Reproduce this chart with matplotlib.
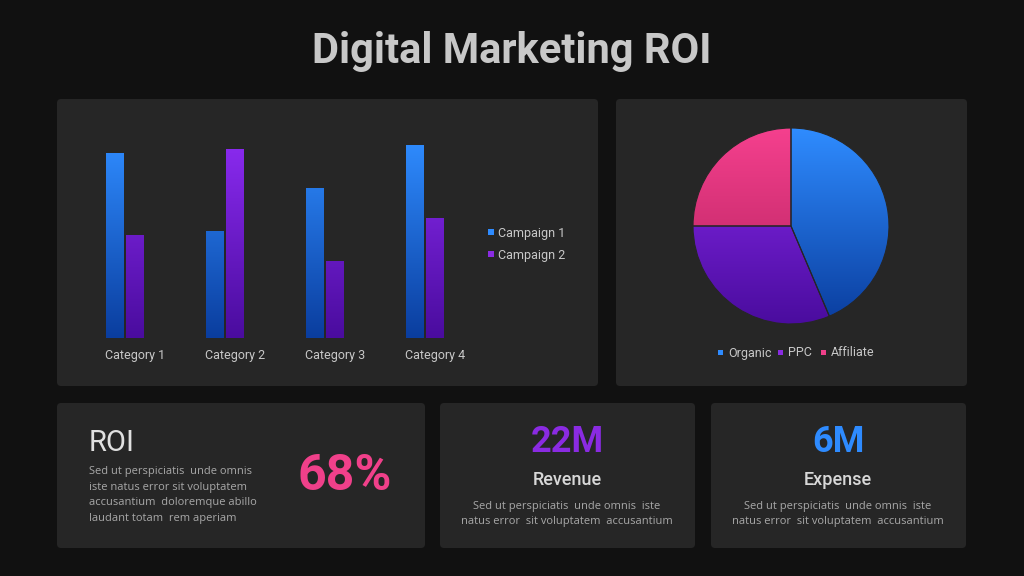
import numpy as np
import matplotlib
matplotlib.use("Agg")
import matplotlib.pyplot as plt
from matplotlib.patches import FancyBboxPatch, Rectangle, Wedge
from matplotlib.colors import LinearSegmentedColormap

categories = ["Category 1", "Category 2", "Category 3", "Category 4"]
campaign1 = [4.3, 2.5, 3.5, 4.5]
campaign2 = [2.4, 4.4, 1.8, 2.8]
series_names = ["Campaign 1", "Campaign 2"]
pie_labels = ["Organic", "PPC", "Affiliate"]
pie_values = [43.6, 31.4, 25.0]

plt.rcParams['font.family'] = ['Roboto', 'DejaVu Sans']
W, H = 1024, 576
fig = plt.figure(figsize=(W/100, H/100), dpi=100)
fig.patch.set_facecolor("#111111")
bg = fig.add_axes([0, 0, 1, 1])
bg.set_xlim(0, W); bg.set_ylim(H, 0); bg.axis("off")

def panel(x0, y0, x1, y1):
    bg.add_patch(FancyBboxPatch((x0, y0), x1-x0, y1-y0, boxstyle="round,pad=0,rounding_size=4",
                                fc="#262626", ec="none", zorder=1))
panel(57, 99, 598, 386)
panel(616, 99, 967, 386)
panel(57, 403, 425, 548)
panel(440, 403, 695, 548)
panel(711, 403, 966, 548)

bg.text(512, 52, "Digital Marketing ROI", ha="center", va="center", fontsize=30,
        fontweight="bold", color="#C8C8C8")

lorem_c = "#A8A8A8"
bg.text(89, 443, "ROI", fontsize=21, color="#E0E0E0", va="center", ha="left")
bg.text(89, 495, "Sed ut perspiciatis  unde omnis\niste natus error sit voluptatem\naccusantium  doloremque abillo\nlaudant totam  rem aperiam",
        fontsize=8, color=lorem_c, va="center", ha="left", linespacing=1.6, family=["Open Sans", "DejaVu Sans"])
bg.text(345, 476, "68%", fontsize=36, fontweight="bold", color="#F0408A", ha="center", va="center")
for cx, big, col, lab in [(567, "22M", "#8A2BE2", "Revenue"), (838, "6M", "#2E8BFF", "Expense")]:
    bg.text(cx, 442, big, fontsize=26, fontweight="bold", color=col, ha="center", va="center")
    bg.text(cx, 480, lab, fontsize=13, fontweight="medium", color="#D8D8D8", ha="center", va="center")
    bg.text(cx, 514, "Sed ut perspiciatis  unde omnis  iste\nnatus error  sit voluptatem  accusantium",
            fontsize=8, color=lorem_c, ha="center", va="center", linespacing=1.6, family=["Open Sans", "DejaVu Sans"])

blue_cm = LinearSegmentedColormap.from_list("b", ["#0A3D9E", "#2F8CFF"])
purp_cm = LinearSegmentedColormap.from_list("p", ["#4A0C9E", "#8B2BF0"])
pink_cm = LinearSegmentedColormap.from_list("k", ["#B0205A", "#F5408E"])

# bar chart
ax = fig.add_axes([90/W, (H-338)/H, 390/W, 219/H])
ax.set_facecolor("none")
ax.set_ylim(0, 5.1)
x = np.arange(len(categories))
bw = 0.18
ax.set_xlim(-0.35, 3.55)
grad = np.linspace(0, 1, 256).reshape(-1, 1)
for vals, off, cm in [(campaign1, -0.1, blue_cm), (campaign2, 0.1, purp_cm)]:
    bars = ax.bar(x + off, vals, bw, color="none")
    for b in bars:
        im = ax.imshow(grad, cmap=cm, origin="lower", aspect="auto",
                       extent=[b.get_x(), b.get_x()+b.get_width(), 0, 4.6], zorder=2)
        im.set_clip_path(b)
ax.set_xlim(-0.35, 3.55); ax.set_ylim(0, 5.1)
ax.set_xticks(x + 0.1)
ax.set_xticklabels(categories, color="#C8C8C8", fontsize=9)
ax.tick_params(length=0, pad=8)
ax.set_yticks([])
for s in ax.spines.values(): s.set_visible(False)
for i, (nm, c) in enumerate(zip(series_names, ["#2E8BFF", "#8A2BE2"])):
    bg.add_patch(Rectangle((488, 231 + i*22 - 2), 6, 6, fc=c, ec="none", zorder=3))
    bg.text(498, 234 + i*22, nm, fontsize=9, color="#C8C8C8", va="center", zorder=3)

# pie
r = 98
pax = fig.add_axes([(791-r)/W, (H-226-r)/H, 2*r/W, 2*r/H])
pax.set_xlim(-1, 1); pax.set_ylim(-1, 1); pax.axis("off")
wedges, _ = pax.pie(pie_values, startangle=90, counterclock=False, radius=1,
                    colors=["none"]*3, wedgeprops=dict(ec="none"))
for w, cm in zip(wedges, [blue_cm, purp_cm, pink_cm]):
    im = pax.imshow(grad, cmap=cm, origin="lower", aspect="auto", extent=[-1, 1, -1, 1], zorder=1)
    im.set_clip_path(w)
    pax.add_patch(Wedge(w.center, w.r, w.theta1, w.theta2, fc="none", ec="#262626", lw=0.8, zorder=2))
pax.set_xlim(-1, 1); pax.set_ylim(-1, 1)
lx = [718, 778, 821]
for nm, c, px in zip(pie_labels, ["#2E8BFF", "#8A2BE2", "#F0408A"], lx):
    bg.add_patch(Rectangle((px, 350), 5, 5, fc=c, ec="none", zorder=3))
    bg.text(px + 10, 353, nm, fontsize=9, color="#C8C8C8", va="center", zorder=3)

fig.savefig("out.png", dpi=100, facecolor=fig.get_facecolor())
